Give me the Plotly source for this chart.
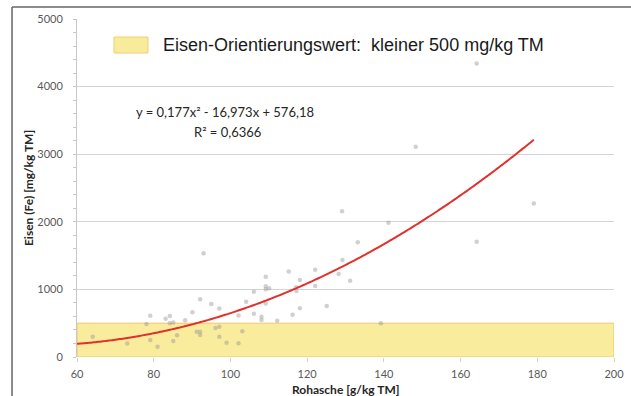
import numpy as np
import plotly.graph_objects as go

# Raw ash content vs. iron content of the samples
rohasche = [64.1, 73.1, 78.1, 79.1, 79.1, 81.0, 83.1, 84.2, 84.2, 85.1, 86.1, 85.1,
            88.2, 90.1, 92.1, 91.2, 92.1, 92.1, 93.0, 95.0, 97.1, 96.1, 97.1, 97.1,
            99.0, 102.1, 102.1, 103.1, 104.1, 106.1, 106.1, 108.1, 108.1, 109.2,
            109.2, 109.2, 110.1, 109.2, 112.2, 115.2, 116.2, 117.1, 117.2, 118.1,
            118.1, 122.1, 122.1, 125.1, 128.2, 129.2, 129.1, 131.2, 133.2, 139.2,
            141.2, 148.3, 164.2, 164.2, 179.1]
eisen = [301, 200, 488, 611, 251, 153, 565, 606, 498, 510, 320, 237,
         542, 663, 855, 374, 374, 325, 1534, 784, 718, 430, 448, 301,
         212, 205, 614, 380, 818, 964, 640, 596, 547, 1188,
         1045, 1001, 1016, 790, 538, 1265, 625, 1031, 975, 720,
         1139, 1292, 1052, 756, 1228, 1435, 2155, 1129, 1699, 498,
         1985, 3110, 4340, 1706, 2270]

# Quadratic trend line y = a*x^2 + b*x + c and its fit quality
coef_a, coef_b, coef_c = 0.177, -16.973, 576.18
r_squared = 0.6366

# Orientation value for iron
orientierungswert = 500
legend_text = "Eisen-Orientierungswert: \u00a0kleiner 500 mg/kg TM"

x_range = [60, 200]
y_range = [0, 5000]
x_ticks = [60, 80, 100, 120, 140, 160, 180, 200]
y_ticks = [0, 1000, 2000, 3000, 4000, 5000]
x_title = "Rohasche [g/kg TM]"
y_title = "Eisen (Fe) [mg/kg TM]"

fig = go.Figure()

fig.add_trace(go.Scatter(
    x=rohasche, y=eisen, mode="markers",
    marker=dict(size=4.5, color="rgba(150,150,150,0.45)", line=dict(width=0)),
    showlegend=False, hoverinfo="x+y",
))

trend_x = np.linspace(x_range[0], max(rohasche), 300)
trend_y = coef_a * trend_x ** 2 + coef_b * trend_x + coef_c
fig.add_trace(go.Scatter(
    x=trend_x, y=trend_y, mode="lines",
    line=dict(color="#E2312B", width=2, simplify=False),
    showlegend=False, hoverinfo="skip",
))

# Shaded band below the orientation value
fig.add_shape(type="rect", xref="x", yref="y",
              x0=x_range[0], x1=x_range[1], y0=0, y1=orientierungswert,
              fillcolor="#F9EC9C", line=dict(color="#F3C46A", width=1),
              layer="below")

# Legend swatch and label
fig.add_shape(type="rect", xref="paper", yref="paper",
              x0=0.0689, x1=0.1322, y0=0.8994, y1=0.9467,
              fillcolor="#F8EB9A", line=dict(color="#F1CC7A", width=1))
fig.add_annotation(xref="paper", yref="paper", x=0.157, y=0.923,
                   xanchor="left", yanchor="middle", showarrow=False,
                   text=legend_text,
                   font=dict(family="Liberation Sans", size=18, color="#1a1a1a"))

# Trend line equation
eq_text = (f"y = {coef_a:.3f}x² - {abs(coef_b):.3f}x + {coef_c:.2f}").replace(".", ",")
r2_text = f"R² = {r_squared:.4f}".replace(".", ",")
fig.add_annotation(xref="paper", yref="paper", x=0.2765, y=0.7249,
                   xanchor="center", yanchor="middle", showarrow=False,
                   text=eq_text, font=dict(family="Lato", size=13, color="#262626"))
fig.add_annotation(xref="paper", yref="paper", x=0.2800, y=0.6657,
                   xanchor="center", yanchor="middle", showarrow=False,
                   text=r2_text, font=dict(family="Lato", size=13, color="#262626"))

# Axis titles
fig.add_annotation(xref="paper", yref="paper", x=0.5, y=-0.0976,
                   xanchor="center", yanchor="middle", showarrow=False,
                   text=f"<b>{x_title}</b>",
                   font=dict(family="Lato", size=12, color="#262626"))
fig.add_annotation(xref="paper", yref="paper", x=-0.0912, y=0.5,
                   xanchor="center", yanchor="middle", showarrow=False, textangle=-90,
                   text=f"<b>{y_title}</b>",
                   font=dict(family="Lato", size=12, color="#262626"))

# Outer frame lines (left and top)
fig.add_shape(type="line", xref="paper", yref="paper",
              x0=-0.121, x1=-0.121, y0=1.0355, y1=-0.3,
              line=dict(color="#666666", width=1.5))
fig.add_shape(type="line", xref="paper", yref="paper",
              x0=-0.121, x1=1.1, y0=1.0355, y1=1.0355,
              line=dict(color="#666666", width=1.5))

fig.update_xaxes(
    range=x_range, tickvals=x_ticks, showgrid=False, zeroline=False,
    showline=False, ticks="outside", ticklen=4, tickcolor="#D0D0D0",
    ticklabelstandoff=3, automargin=False,
    tickfont=dict(family="Lato", size=11, color="#595959"),
)
fig.update_yaxes(
    range=y_range, tickvals=y_ticks, showgrid=True, gridcolor="#D4D4D4",
    gridwidth=1, zeroline=False, showline=True, linecolor="#C8C8C8", linewidth=1,
    ticks="outside", ticklen=3, tickcolor="#C8C8C8", automargin=False,
    minor=dict(dtick=200, ticks="outside", ticklen=3, tickcolor="#C8C8C8", showgrid=False),
    ticklabelstandoff=8,
    tickfont=dict(family="Lato", size=11, color="#595959"),
)

fig.update_layout(
    width=631, height=396,
    margin=dict(l=77, r=17, t=19, b=39),
    paper_bgcolor="white", plot_bgcolor="white",
    showlegend=False,
)

fig.write_html("out.html")
